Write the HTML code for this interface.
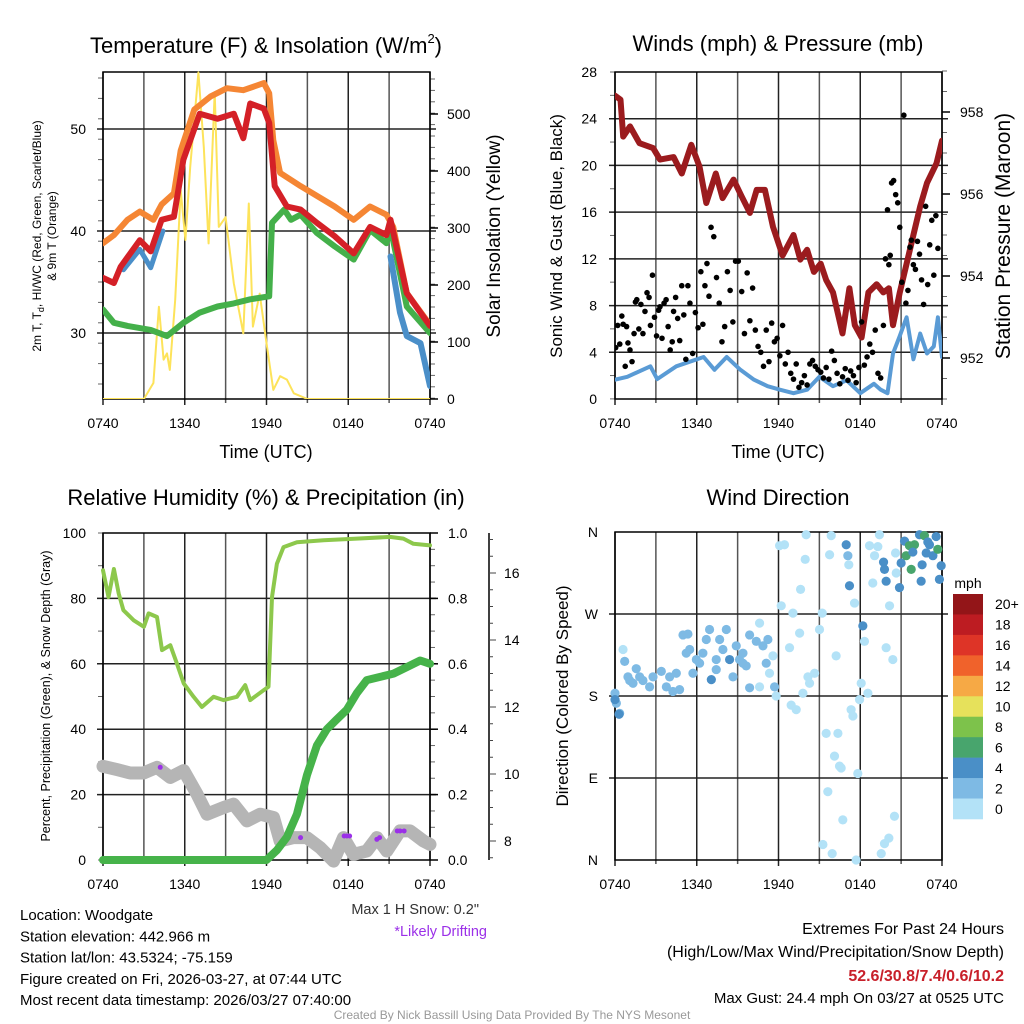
<!DOCTYPE html>
<html><head><meta charset="utf-8"><style>
body{margin:0;background:#fff}
svg{display:block;font-family:"Liberation Sans",Arial,sans-serif}
</style></head><body>
<svg id="s" width="1024" height="1024" viewBox="0 0 1024 1024"></svg>
<script>
// ===== Temperature panel data (hours since 0740 UTC) =====
const tOrangeH=[0,0.8,1.8,2.7,3.7,4.3,5.2,5.7,6.7,7.9,9.1,10.3,11.8,12.2,12.5,13,14.5,17,18.4,19.6,20.8,21.3,22.3,24];
const tOrangeV=[38.8,39.6,41.1,41.9,41.1,42.6,43.7,47.9,51.9,53.2,54,53.8,54.5,53.5,48.9,45.7,44.4,42.4,41.1,42.4,41.6,40.4,33.9,30.8];
const tRedH=[0,0.8,1.3,2.7,3.5,4.3,5.2,5.9,7.1,8.4,9.6,10.3,10.8,11.8,12.2,12.6,13.5,14.5,15.7,17,18.4,19.6,20.8,21.1,22.3,23.3,24];
const tRedV=[35.4,34.9,36.5,39.1,38,41.1,41.4,47,51.5,51,51.5,49.1,52.5,52,50.6,44.4,42.4,42.1,40.8,39.5,37.8,40.4,39.6,41.1,33.9,32,30.7];
const tGreenH=[0,0.8,1.8,3.5,4.7,5.9,7.1,8.4,9.6,10.8,12.2,12.4,13.3,13.8,14.5,15.7,17,18.4,19.6,20.8,21.1,22.3,24];
const tGreenV=[32.3,31,30.7,30.3,29.7,31,32,32.6,32.9,33.3,33.6,40.8,42.1,41.1,41.6,39.8,38.5,37.2,40.1,38.8,40.3,32.6,30];
const tBlueH=[1.5,2.7,3.5,4.4,21.1,21.8,22.3,23.3,24];
const tBlueV=[36.2,38.2,36.4,40,37.5,32,29.7,29,24.8];
const solarH=[0,3,3.7,4.1,4.45,4.7,4.9,5.3,5.7,6.05,6.4,7,7.4,7.75,8.2,8.5,9,9.6,10.3,10.7,11,11.5,12,12.5,13,13.5,14,15,24];
const solarV=[0,0,28,162,69,80,51,174,366,279,407,573,442,273,538,302,319,203,115,343,127,185,98,16,40,34,10,0,0];
// ===== Winds panel data =====
const presH=[0,0.4,0.6,1.1,1.8,2.8,3.3,4.3,4.9,5.6,6.2,6.7,7.4,7.9,8.7,9.3,9.9,10.4,11,11.6,12.3,13.1,13.6,14.1,14.6,15.1,15.5,16,16.7,17.2,17.6,18.1,18.6,19.2,19.7,20.1,20.4,20.9,21.4,21.9,22.4,22.9,23.6,24];
const presV=[958.4,958.3,957.4,957.65,957.24,957.12,956.84,956.9,956.5,957.2,956.67,955.78,956.5,955.9,956.35,955.94,955.54,956.1,956.1,955.2,954.5,955,954.4,954.64,954.1,954.3,953.9,953.6,952.6,953.7,952.8,952.5,953.6,953.8,953.6,953.7,952.8,953.6,954.3,955,955.7,956.27,956.75,957.3];
const windH=[0,0.9,2.6,3.1,4.5,6.5,7.3,8.2,9.2,10.2,11.2,12.1,13.1,14.1,15,16,17,18,19,19.5,20,20.4,20.9,21.4,21.9,22.4,22.9,23.4,23.7,24];
const windV=[1.65,1.9,2.8,1.7,2.8,3.6,2.5,3.6,2.5,1.65,1.1,0.8,0.5,0.8,1.9,1.1,1.6,0.5,1.3,0.8,0.5,3.9,5.4,7,3.4,5.6,3.9,4.5,7,3.6];
const gustH=[0.05,0.2,0.35,0.5,0.6,0.75,0.85,0.95,1.1,1.25,1.4,1.5,1.6,1.75,1.9,2.05,2.2,2.35,2.5,2.6,2.75,2.9,3.05,3.2,3.3,3.45,3.6,3.75,3.9,4.05,4.2,4.3,4.45,4.6,4.75,4.9,5.05,5.2,5.35,5.5,5.7,5.9,6.1,6.3,6.45,6.6,6.75,6.9,7.05,7.25,7.45,7.65,7.85,8.05,8.25,8.45,8.65,8.85,9.05,9.3,9.5,9.7,9.9,10.1,10.3,10.5,10.7,10.9,11.1,11.3,11.5,11.7,11.9,12.1,12.3,12.5,12.7,12.9,13.1,13.3,13.5,13.7,13.9,14.1,14.3,14.5,14.7,14.9,15.1,15.3,15.5,15.7,15.9,16.1,16.3,16.5,16.7,16.9,17.1,17.3,17.5,17.7,17.9,18.1,18.3,18.5,18.7,18.9,19.1,19.3,19.5,19.7,19.85,20,20.1,20.2,20.3,20.45,20.6,20.75,20.9,21.05,21.2,21.35,21.5,21.65,21.75,21.9,22.05,22.2,22.35,22.5,22.65,22.8,22.95,23.1,23.25,23.4,23.55,23.7,23.85,23.95];
const gustV=[4.4,6.3,4.7,7.1,6.4,2.8,6.2,4.8,4.2,3.2,5.6,8.3,8.5,6,8.1,5.6,7.5,9.1,8.7,6.3,10.6,7,5.4,7.6,7.9,5.2,8.2,8.5,6.2,4.2,4.9,7.5,8.7,6.9,5,9.7,7.2,3.4,9.7,8.2,3.9,7.4,6.1,10.9,6.4,9.7,11.6,8.8,14.7,13.9,10.4,8.2,4.9,6.2,10.9,9.3,6.6,11.8,11.8,9.2,5.6,10.8,6.7,9.5,5.9,4.5,4,2.8,5.9,3.2,6.5,4.9,5.2,3.7,6.3,3,4,2.2,1.7,3,1,1.4,2,1.2,3,3.3,2.8,2.5,2.3,1.8,2.7,1.7,4.1,3.3,2.2,1.3,1.9,2.6,1.6,2.4,2,1.4,2.7,6.6,2.9,3.6,4.7,4,5.9,2.2,1.8,6.3,12,16.2,11.5,12.3,18.5,18.7,17.5,16.8,14.7,10,24.3,8.2,9.3,13,13.6,11.5,11.1,13.5,12.4,10.2,8.1,16.5,9.8,13.2,15.3,10.6,15.7,12.9];
// ===== RH / precip / snow panel data =====
const rhH=[0,0.4,0.8,1.15,1.5,2.25,3,3.35,3.96,4.33,4.94,5.43,5.92,6.65,7.26,8.12,8.85,9.83,10.44,10.8,11.78,12.15,12.4,12.76,13.25,14.23,16.18,18.62,21.07,22.05,22.78,24];
const rhV=[88.6,80.4,89,81.5,76.4,73.3,71.3,75.4,74.3,64.2,65.7,60,54,49.9,46.8,49.9,48.9,49.9,53.5,48.9,51.9,53,80.4,90.6,95.7,97.2,97.8,98.3,98.8,98.3,96.7,96.2];
const pcpH=[0,12,12.76,13.5,14.23,14.97,15.7,16.43,17.16,17.9,18.63,19.36,20.34,21.32,22.3,23.28,24];
const pcpV=[0,0,0.03,0.07,0.14,0.26,0.35,0.4,0.43,0.46,0.51,0.55,0.56,0.57,0.59,0.61,0.6];
const snowH=[0,1.03,2,2.98,3.96,4.94,5.92,6.9,7.63,8.85,9.58,10.56,11.54,12.52,13,13.98,14.96,15.94,16.92,17.65,18.38,19.36,20.1,20.83,21.8,22.54,23.52,24];
const snowV=[10.23,10.13,10.03,10.03,10.2,9.9,10.1,9.4,8.8,9,9.1,8.6,8.8,8.7,8,8.1,8.1,7.8,7.4,8.1,7.6,7.7,8.1,7.7,8.3,8.3,8,7.9];
const driftH=[4.2,14.5,17.7,17.9,18.1,20.1,20.3,21.6,21.8,22.1];
const driftV=[10.2,8.1,8.15,8.15,8.15,8.05,8.1,8.3,8.3,8.3];
// ===== Wind direction panel data =====
const dirH=[0,0.1,0.34,0.59,0.71,0.95,1.08,1.32,1.56,1.81,2.05,2.54,2.79,3.4,3.77,4.01,4.25,4.5,4.74,4.99,5.23,5.35,5.48,5.72,5.97,6.21,6.45,6.7,6.94,7.07,7.43,7.43,7.68,7.92,8.17,8.41,8.66,8.9,9.14,9.39,9.39,9.63,9.88,9.88,10.37,10.61,10.86,11.1,11.22,11.59,11.71,
10.61,11.34,11.83,12.08,12.44,12.2,12.81,12.93,13.06,13.3,13.55,13.62,13.79,13.96,14.03,14.16,14.28,14.65,15.01,15.21,15.26,15.5,15.62,15.75,15.87,15.94,16.11,16.23,16.36,16.48,16.6,16.72,16.97,17.09,17.16,17.21,17.33,17.46,17.58,17.7,17.82,17.95,18.07,18.19,18.31,18.56,18.68,18.92,19.05,19.41,19.54,19.78,19.9,20.1,20.15,20.39,20.51,20.59,20.64,20.88,19.9,19.78,19.71,19.29,
21,21.25,21.37,21.61,21.74,21.98,22.35,22.47,22.54,22.71,22.84,23.08,23.33,23.57,23.69,23.81,23.94,21.86,22.96,0,0.3];
const dirD=[183,172,161,231,218,201,197,194,210,201,197,190,201,207,190,201,185,205,187,247,227,248,231,205,220,216,227,242,253,198,209,220,242,231,253,220,201,235,220,216,227,213,247,189,240,260,235,216,242,224,190,
190,205,180,345,346,279,233,170,271,165,249,297,183,330,357,201,194,205,253,271,17,139,75,335,356,7,114,224,139,103,101,44,346,334,324,301,165,158,282,0,95,176,194,257,240,183,345,304,334,357,7,18,233,24,279,220,48,337,315,299,306,319,327,344,
326,350,334,345,319,346,357,306,324,356,337,346,334,355,341,308,323,338,349,176,160];
const dirS=[3,3,3,1,3,3,3,3,3,3,3,3,3,3,3,3,3,3,3,3,3,3,3,3,3,3,3,3,3,5,3,3,3,3,3,5,3,3,3,3,3,3,3,3,3,1,3,3,3,1,3,
1,1,1,1,1,1,1,1,1,1,1,1,1,1,1,1,1,1,1,1,1,1,1,1,1,1,1,1,1,1,1,1,5,3,1,5,1,1,1,1,1,1,1,5,1,1,1,1,1,1,1,1,1,1,1,1,1,1,1,5,5,5,5,1,
5,5,7,7,7,7,5,5,5,7,5,5,5,5,7,5,5,5,5,5,5];
// colorbar
const cbLabels=["20+","18","16","14","12","10","8","6","4","2","0"];
const cbColors=["#931518","#bd1c22","#de3427","#f0622b","#f6a945","#e6e15b","#7dc24b","#48a56d","#4a8fc7","#7ebae4","#b3e2f7"];
const dirLabels=["N","W","S","E","N"];
const timeLabels=["0740","1340","1940","0140","0740"];

const svg=document.getElementById('s');
const NS='http://www.w3.org/2000/svg';
function mk(tag,attrs,parent){const e=document.createElementNS(NS,tag);for(const k in attrs)e.setAttribute(k,attrs[k]);(parent||svg).appendChild(e);return e;}
function txt(str,x,y,size,anchor,parent,extra){const t=mk('text',Object.assign({x:x,y:y,'font-size':size,'text-anchor':anchor||'middle',fill:'#000'},extra||{}),parent);t.textContent=str;return t;}
function grp(name){const g=mk('g',{});return g;}
function mkX(x0,x1){return h=>x0+h/24*(x1-x0);}
function lin(v0,p0,v1,p1){return v=>p0+(v-v0)*(p1-p0)/(v1-v0);}
function path(H,V,fx,fy,stroke,w,parent,name){
  let d='';let pen=false;
  for(let i=0;i<H.length;i++){if(V[i]==null){pen=false;continue;}d+=(pen?'L':'M')+fx(H[i]).toFixed(1)+' '+fy(V[i]).toFixed(1);pen=true;}
  const p=mk('path',{d:d,fill:'none',stroke:stroke,'stroke-width':w,'stroke-linejoin':'round','stroke-linecap':'round'},parent);
  
  
  return p;
}
function frame(g,x0,y0,x1,y1,hy){
  for(let i=0;i<=8;i++){const x=x0+i*(x1-x0)/8;mk('line',{x1:x,y1:y0,x2:x,y2:y1+(i%2==0?6:4),stroke:i%2==0?'#222':'#555','stroke-width':1.5},g);}
  hy.forEach(y=>mk('line',{x1:x0-6,y1:y,x2:x1+6,y2:y,stroke:'#222','stroke-width':1.5},g));
  mk('rect',{x:x0,y:y0,width:x1-x0,height:y1-y0,fill:'none',stroke:'#000','stroke-width':1.5},g);
  for(let i=0;i<5;i++)txt(timeLabels[i],x0+i*(x1-x0)/4,y1+29,14,'middle',g);
}
function minorTicks(g,x,side,pFrom,pTo,step){for(let p=pFrom;p<=pTo+0.1;p+=step)mk('line',{x1:x,y1:p,x2:x+side*5,y2:p,stroke:'#666','stroke-width':1},g);}

// ================= PANEL 1 =================
(function(){
const g=grp('temperature-panel');
const X0=103,X1=430,Y0=72,Y1=399;
const fx=mkX(X0,X1),fy=lin(30,333,50,129),fs=lin(0,399,500,114);
const tt=txt('Temperature (F) & Insolation (W/m',266,53,22,'middle',g);

const sup=mk('tspan',{'font-size':13,dy:-10},tt);sup.textContent='2';
const cl=mk('tspan',{dy:10},tt);cl.textContent=')';
minorTicks(g,X0,-1,78,399,20.4);
minorTicks(g,X1,1,79,399,11.4);
frame(g,X0,Y0,X1,Y1,[129,231,333]);
[30,40,50].forEach(v=>txt(String(v),86,fy(v)+5,14,'end',g));
[0,100,200,300,400,500].forEach(v=>{txt(String(v),447,fs(v)+5,14,'start',g);mk('line',{x1:X1,y1:fs(v),x2:X1+8,y2:fs(v),stroke:'#000','stroke-width':1.5},g);});
const t1=txt('2m T, T',0,0,12,'middle',g,{transform:'translate(41,236) rotate(-90)'});

const ts=mk('tspan',{'font-size':9,dy:3},t1);ts.textContent='d';
const ts2=mk('tspan',{dy:-3},t1);ts2.textContent=', HI/WC (Red, Green, Scarlet/Blue)';
txt('& 9m T (Orange)',0,0,12,'middle',g,{transform:'translate(56,236) rotate(-90)'});
txt('Solar Insolation (Yellow)',0,0,19,'middle',g,{transform:'translate(500,236) rotate(-90)'});
txt('Time (UTC)',266,458,18,'middle',g);
const clip=mk('clipPath',{id:'c1'},g);mk('rect',{x:X0,y:Y0-4,width:X1-X0,height:Y1-Y0+4},clip);
const pg=mk('g',{'clip-path':'url(#c1)'},g);
path(solarH,solarV,fx,fs,'#fde35a',2,pg,'solar-line');
path(tOrangeH,tOrangeV,fx,fy,'#f58634',6,pg,'9m-temp-line');
path(tGreenH,tGreenV,fx,fy,'#44b04a',6,pg,'dewpoint-line');
path(tBlueH.slice(0,4),tBlueV.slice(0,4),fx,fy,'#4a8fc9',5,pg,'windchill-line-early');
path(tBlueH.slice(4),tBlueV.slice(4),fx,fy,'#4a8fc9',6,pg,'windchill-line-late');
path(tRedH,tRedV,fx,fy,'#d42027',6,pg,'2m-temp-line');
})();

// ================= PANEL 2 =================
(function(){
const g=grp('winds-panel');
const X0=615,X1=942,Y0=72,Y1=399;
const fx=mkX(X0,X1),fy=lin(0,399,28,72),fp=lin(952,358,958,112);
txt('Winds (mph) & Pressure (mb)',778,51,22,'middle',g);
minorTicks(g,X0,-1,72,399,23.35);
minorTicks(g,X1,1,71,399,20.5);
frame(g,X0,Y0,X1,Y1,[352.3,305.6,258.9,212.1,165.4,118.7]);
[0,4,8,12,16,20,24,28].forEach(v=>txt(String(v),597,fy(v)+5,14,'end',g));
[952,954,956,958].forEach(v=>{txt(String(v),960,fp(v)+5,14,'start',g);mk('line',{x1:X1,y1:fp(v),x2:X1+8,y2:fp(v),stroke:'#000','stroke-width':1.5},g);});
txt('Sonic Wind & Gust (Blue, Black)',0,0,17,'middle',g,{transform:'translate(562,236) rotate(-90)'});
txt('Station Pressure (Maroon)',0,0,21,'middle',g,{transform:'translate(1010,236) rotate(-90)'});
txt('Time (UTC)',778,458,18,'middle',g);
const clip=mk('clipPath',{id:'c2'},g);mk('rect',{x:X0,y:Y0-4,width:X1-X0,height:Y1-Y0+4},clip);
const pg=mk('g',{'clip-path':'url(#c2)'},g);
path(windH,windV,fx,fy,'#5a9bd5',4,pg,'sonic-wind-line');
path(presH,presV,fx,fp,'#9b1b1e',6,pg,'pressure-line');
const dg=mk('g',{},pg);
for(let i=0;i<gustH.length;i++){
  const c=mk('circle',{cx:fx(gustH[i]),cy:fy(gustV[i]),r:2.8,fill:'#000'},dg);
  
  
}
})();

// ================= PANEL 3 =================
(function(){
const g=grp('humidity-panel');
const X0=103,X1=430,Y0=533,Y1=860;
const fx=mkX(X0,X1),fy=lin(0,860,100,533),fr=lin(0,860,1,533),fs=lin(8,841,10,774);
txt('Relative Humidity (%) & Precipitation (in)',266,505,22,'middle',g);
minorTicks(g,X0,-1,533,860,32.7);
minorTicks(g,X1,1,533,860,16.35);
frame(g,X0,Y0,X1,Y1,[794.6,729.2,663.8,598.4]);
[0,20,40,60,80,100].forEach(v=>txt(String(v),86,fy(v)+5,14,'end',g));
[0,0.2,0.4,0.6,0.8,1.0].forEach(v=>{txt(v.toFixed(1),448,fr(v)+5,14,'start',g);mk('line',{x1:X1,y1:fr(v),x2:X1+8,y2:fr(v),stroke:'#000','stroke-width':1.5},g);});
const sa=grp('snow-depth-axis');
mk('line',{x1:489,y1:533,x2:489,y2:860,stroke:'#000','stroke-width':1.5},sa);
for(let v=7.5;v<=17.2;v+=0.5){mk('line',{x1:489,y1:fs(v),x2:489+(v%2==0?7:4),y2:fs(v),stroke:'#444','stroke-width':1},sa);}
[8,10,12,14,16].forEach(v=>txt(String(v),504,fs(v)+5,14,'start',sa));
txt('Percent, Precipitation (Green), & Snow Depth (Gray)',0,0,12.5,'middle',g,{transform:'translate(50,696) rotate(-90)'});
const clip=mk('clipPath',{id:'c3'},g);mk('rect',{x:X0-8,y:Y0-8,width:X1-X0+16,height:Y1-Y0+16},clip);
const pg=mk('g',{'clip-path':'url(#c3)'},g);
path(snowH,snowV,fx,fs,'#b5b5b5',13,pg,'snow-depth-line');
path(rhH,rhV,fx,fy,'#8dc84c',4,pg,'relative-humidity-line');
path(pcpH,pcpV,fx,fr,'#46b34a',8,pg,'precipitation-line');
for(let i=0;i<driftH.length;i++){
  const c=mk('circle',{cx:fx(driftH[i]),cy:fs(driftV[i]),r:2.5,fill:'#9b30e8'},pg);
  
  
}
})();

// ================= PANEL 4 =================
(function(){
const g=grp('wind-direction-panel');
const X0=615,X1=942,Y0=532,Y1=860;
const fx=mkX(X0,X1),fy=lin(360,532,0,860);
txt('Wind Direction',778,505,22,'middle',g);
frame(g,X0,Y0,X1,Y1,[614,696,778]);
dirLabels.forEach((l,i)=>txt(l,598,Y0+i*82+5,14,'end',g));
txt('Direction (Colored By Speed)',0,0,17,'middle',g,{transform:'translate(568,696) rotate(-90)'});
function col(s){const idx=Math.min(10,Math.floor(s/2));return cbColors[10-idx];}
const dg=mk('g',{},g);
for(let i=0;i<dirH.length;i++){
  const c=mk('circle',{cx:fx(dirH[i]),cy:fy(dirD[i]),r:4.6,fill:col(dirS[i])},dg);
  
  
}
const cb=grp('speed-colorbar');
txt('mph',968,588,14,'middle',cb);
const bh=225/cbColors.length;
cbColors.forEach((c,i)=>{mk('rect',{x:953,y:594+i*bh,width:30,height:bh+0.3,fill:c},cb);txt(cbLabels[i],995,594+i*bh+bh/2+5,14,'start',cb);});
})();

// ================= Footer text =================
const ft=grp('station-info');
['Location: Woodgate','Station elevation: 442.966 m','Station lat/lon: 43.5324; -75.159','Figure created on Fri, 2026-03-27, at 07:44 UTC','Most recent data timestamp: 2026/03/27 07:40:00'].forEach((s,i)=>txt(s,20,920+i*21.3,15,'start',ft));
txt('Max 1 H Snow: 0.2"',479,914,14.5,'end',ft,{fill:'#333'});
txt('*Likely Drifting',487,936,14.5,'end',ft,{fill:'#9b30e8'});
const ex=grp('extremes-summary');
txt('Extremes For Past 24 Hours',1004,934,16,'end',ex);
txt('(High/Low/Max Wind/Precipitation/Snow Depth)',1004,957,16,'end',ex);
txt('52.6/30.8/7.4/0.6/10.2',1004,981,16,'end',ex,{fill:'#c8202a','font-weight':'bold'});
txt('Max Gust: 24.4 mph On 03/27 at 0525 UTC',1004,1003,15,'end',ex);
txt('Created By Nick Bassill Using Data Provided By The NYS Mesonet',512,1019,12,'middle',ex,{fill:'#999'});
</script>
</body></html>
